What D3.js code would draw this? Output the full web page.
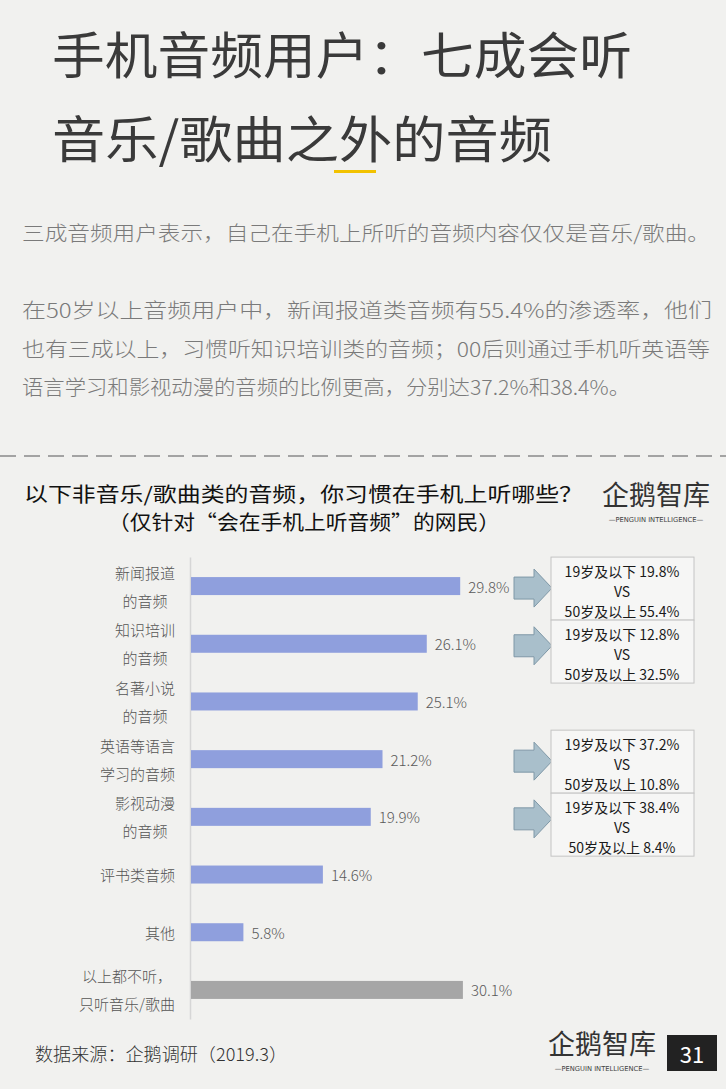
<!DOCTYPE html>
<html>
<head>
<meta charset="utf-8">
<script src="https://cdn.jsdelivr.net/npm/d3@7"></script>
<style>
  html, body { margin: 0; padding: 0; background: #f1f1ef; }
  svg { display: block; font-family: "Microsoft YaHei", "Noto Sans CJK SC", sans-serif; }
</style>
</head>
<body>
<div id="chart"></div>
<script>
// chart data
const categories = ["新闻报道\n的音频", "知识培训\n的音频", "名著小说\n的音频", "英语等语言\n学习的音频",
  "影视动漫\n的音频", "评书类音频", "其他", "以上都不听，\n只听音乐/歌曲"];
const values = [29.8, 26.1, 25.1, 21.2, 19.9, 14.6, 5.8, 30.1];
const greyCategory = "以上都不听，\n只听音乐/歌曲";

// callouts: 19岁及以下 vs 50岁及以上
const calloutCategories = ["新闻报道\n的音频", "知识培训\n的音频", "英语等语言\n学习的音频", "影视动漫\n的音频"];
const calloutYoung = [19.8, 12.8, 37.2, 38.4];
const calloutOld = [55.4, 32.5, 10.8, 8.4];

const titleLines = ["手机音频用户：七成会听", "音乐/歌曲之外的音频"];
const introLines = [
  "三成音频用户表示，自己在手机上所听的音频内容仅仅是音乐/歌曲。",
  "在50岁以上音频用户中，新闻报道类音频有55.4%的渗透率，他们",
  "也有三成以上，习惯听知识培训类的音频；00后则通过手机听英语等",
  "语言学习和影视动漫的音频的比例更高，分别达37.2%和38.4%。"
];
const chartTitle = ["以下非音乐/歌曲类的音频，你习惯在手机上听哪些？", "（仅针对“会在手机上听音频”的网民）"];
const sourceText = "数据来源：企鹅调研（2019.3）";
const pageNumber = "31";

var W = 726, H = 1089;
var svg = d3.select("#chart").append("svg")
  .attr("width", W).attr("height", H);

svg.append("rect").attr("width", W).attr("height", H).attr("fill", "#f1f1ef");

// header
var tl = [{y: 52, len: 580}, {y: 136, len: 500}];
svg.selectAll(".title").data(titleLines).enter().append("text")
  .attr("class", "title")
  .attr("x", 52)
  .attr("y", (d, i) => tl[i].y)
  .attr("dominant-baseline", "central")
  .attr("textLength", (d, i) => tl[i].len)
  .attr("lengthAdjust", "spacingAndGlyphs")
  .attr("font-size", 50)
  .attr("fill", "#3a3a3a")
  .text(d => d);

svg.append("rect")
  .attr("x", 334).attr("y", 170).attr("width", 42).attr("height", 3)
  .attr("fill", "#f2c200");

var il = [{y: 232, len: 688}, {y: 309, len: 690}, {y: 348, len: 688}, {y: 386, len: 608}];
svg.selectAll(".intro").data(introLines).enter().append("text")
  .attr("class", "intro")
  .attr("x", 22)
  .attr("y", (d, i) => il[i].y)
  .attr("dominant-baseline", "central")
  .attr("textLength", (d, i) => il[i].len)
  .attr("lengthAdjust", "spacingAndGlyphs")
  .attr("font-size", 20)
  .attr("font-weight", 300)
  .attr("fill", "#7a7a7a")
  .text(d => d);

svg.append("line")
  .attr("x1", 0).attr("x2", W).attr("y1", 456).attr("y2", 456)
  .attr("stroke", "#a3a3a3").attr("stroke-width", 2)
  .attr("stroke-dasharray", "16 8");

// chart title
var cl = [{x: 24, y: 493, len: 559}, {x: 108, y: 521, len: 392}];
svg.selectAll(".ctitle").data(chartTitle).enter().append("text")
  .attr("class", "ctitle")
  .attr("x", (d, i) => cl[i].x)
  .attr("y", (d, i) => cl[i].y)
  .attr("dominant-baseline", "central")
  .attr("textLength", (d, i) => cl[i].len)
  .attr("lengthAdjust", "spacingAndGlyphs")
  .attr("font-size", 20)
  .attr("font-weight", 400)
  .attr("fill", "#111")
  .text(d => d);

function logo(x, y, size) {
  var g = svg.append("g").attr("transform", `translate(${x},${y})`);
  g.append("text")
    .attr("x", 0).attr("y", 0)
    .attr("textLength", size * 4)
    .attr("lengthAdjust", "spacingAndGlyphs")
    .attr("font-size", size)
    .attr("fill", "#333")
    .text("企鹅智库");
  g.append("text")
    .attr("x", size * 2).attr("y", size * 0.62)
    .attr("text-anchor", "middle")
    .attr("font-size", size * 0.25)
    .attr("fill", "#444")
    .attr("font-family", "DejaVu Sans")
    .text("—PENGUIN INTELLIGENCE—");
}
logo(602, 505, 27);
logo(548, 1054, 27);

// scales
var x = d3.scaleLinear().domain([0, 30]).range([191, 462]);
var y = d3.scaleBand().domain(categories).range([557, 1019])
  .paddingInner(0.688).paddingOuter(0.348);

var yAxis = d3.axisLeft(y).tickSize(0).tickFormat("");
var ag = svg.append("g")
  .attr("transform", "translate(190,0)")
  .call(yAxis);
ag.select(".domain").attr("stroke", "#d6d6d6").attr("stroke-width", 1.5);

svg.selectAll(".bar").data(categories).enter().append("rect")
  .attr("class", "bar")
  .attr("x", x(0))
  .attr("y", d => y(d))
  .attr("width", (d, i) => x(values[i]) - x(0))
  .attr("height", y.bandwidth())
  .attr("fill", d => d === greyCategory ? "#a6a6a6" : "#8f9fdd");

svg.selectAll(".val").data(categories).enter().append("text")
  .attr("class", "val")
  .attr("x", (d, i) => x(values[i]) + 8)
  .attr("y", d => y(d) + y.bandwidth() / 2)
  .attr("dominant-baseline", "central")
  .attr("font-size", 15)
  .attr("font-weight", 300)
  .attr("fill", "#595959")
  .text((d, i) => values[i].toFixed(1) + "%");

// category labels: block right-aligned at 175, lines centred in the block
categories.forEach(function (c) {
  var lines = c.split("\n");
  var yc = y(c) + y.bandwidth() / 2;
  var g = svg.append("g");
  var t = g.selectAll("text").data(lines).enter().append("text")
    .attr("y", (d, i) => yc + (i - (lines.length - 1) / 2) * 28)
    .attr("dominant-baseline", "central")
    .attr("text-anchor", "middle")
    .attr("font-size", 15)
    .attr("font-weight", 300)
    .attr("fill", "#555")
    .text(d => d);
  var maxW = d3.max(t.nodes(), n => n.getComputedTextLength());
  t.attr("x", 175 - maxW / 2);
});

// callouts
var prevBottom = 0;
calloutCategories.forEach(function (c, i) {
  var yc = y(c) + y.bandwidth() / 2 + 2;
  var ax = 514;
  svg.append("path")
    .attr("d", `M${ax},${yc - 11} L${ax + 20},${yc - 11} L${ax + 20},${yc - 19} L${ax + 38},${yc} ` +
      `L${ax + 20},${yc + 19} L${ax + 20},${yc + 11} L${ax},${yc + 11} Z`)
    .attr("fill", "#a9bfcb")
    .attr("stroke", "#7f98a7")
    .attr("stroke-width", 1);

  var top = Math.max(yc - 31, prevBottom);
  prevBottom = top + 63;
  svg.append("rect")
    .attr("x", 551).attr("y", top).attr("width", 143).attr("height", 63)
    .attr("fill", "#f6f6f5").attr("stroke", "#c4c4c4");
  var lines = ["19岁及以下 " + calloutYoung[i].toFixed(1) + "%", "VS", "50岁及以上 " + calloutOld[i].toFixed(1) + "%"];
  svg.selectAll(null).data(lines).enter().append("text")
    .attr("x", 622)
    .attr("y", (d, k) => top + 14 + k * 20)
    .attr("dominant-baseline", "central")
    .attr("text-anchor", "middle")
    .attr("font-size", 14)
    .attr("fill", "#1a1a1a")
    .text(d => d);
});

// footer
svg.append("text")
  .attr("x", 35).attr("y", 1053)
  .attr("dominant-baseline", "central")
  .attr("textLength", 252)
  .attr("lengthAdjust", "spacingAndGlyphs")
  .attr("font-size", 18)
  .attr("font-weight", 300)
  .attr("fill", "#333")
  .text(sourceText);

svg.append("rect")
  .attr("x", 667).attr("y", 1035).attr("width", 50).attr("height", 36)
  .attr("fill", "#222");
svg.append("text")
  .attr("x", 692).attr("y", 1053)
  .attr("dominant-baseline", "central")
  .attr("text-anchor", "middle")
  .attr("font-size", 22)
  .attr("fill", "#fff")
  .text(pageNumber);
</script>
</body>
</html>
